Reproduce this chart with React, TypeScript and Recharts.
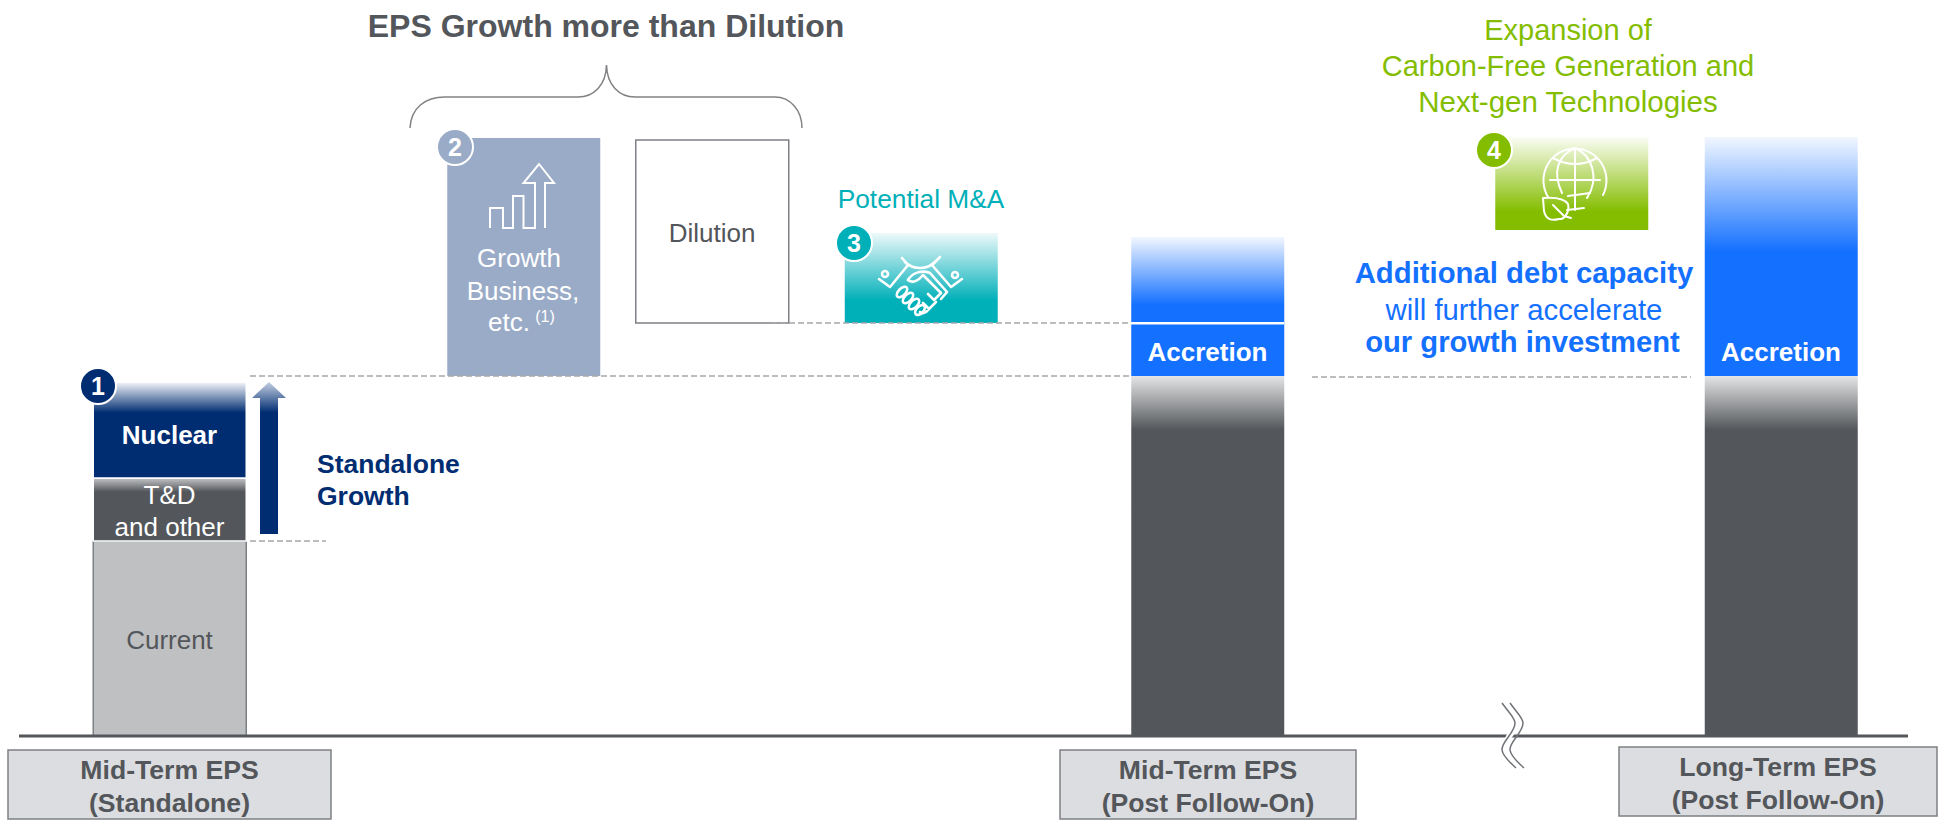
import { Bar, BarChart, ReferenceLine, XAxis, YAxis } from "recharts";

// Reference has no numeric scale: values are relative EPS heights.
const CATEGORIES = [
  "Mid-Term EPS (Standalone)",
  "Growth Business",
  "Dilution",
  "Potential M&A",
  "Mid-Term EPS (Post Follow-On)",
  "Carbon-Free Generation",
  "Long-Term EPS (Post Follow-On)",
];
const OFFSET = [0, 360, 413, 413, 0, 506, 0];
const CURRENT = [195, 0, 0, 0, 0, 0, 0];
const TD_OTHER = [63, 0, 0, 0, 0, 0, 0];
const NUCLEAR = [96, 0, 0, 0, 0, 0, 0];
const GROWTH = [0, 238, 0, 0, 0, 0, 0];
const DILUTION = [0, 0, 183, 0, 0, 0, 0];
const MNA = [0, 0, 0, 90, 0, 0, 0];
const STANDALONE = [0, 0, 0, 0, 360, 0, 360];
const ACCRETION = [0, 0, 0, 0, 52, 0, 0];
const EXPANSION = [0, 0, 0, 0, 87, 93, 0];
const LONG_ACCRETION = [0, 0, 0, 0, 0, 0, 239];

const WIDTH = 1945;
const HEIGHT = 821;
const BAR_W = 153;
const PLOT_LEFT = 19;
const PLOT_RIGHT = 1908;
const CENTERS = [169.5, 523.5, 712, 921, 1207.5, 1571.5, 1781];

const FONT = "'Liberation Sans', Arial, sans-serif";
const GREY = "#53565a";
const NAVY = "#002d72";
const STEEL = "#9aabc7";
const TEAL = "#00b0b9";
const GREEN = "#84bd00";
const BLUE = "#1470ff";

const chartData = CATEGORIES.map((name, i) => ({
  name,
  center: CENTERS[i],
  offset: OFFSET[i],
  current: CURRENT[i],
  td: TD_OTHER[i],
  nuclear: NUCLEAR[i],
  growth: GROWTH[i],
  dilution: DILUTION[i],
  mna: MNA[i],
  standalone: STANDALONE[i],
  accretion: ACCRETION[i],
  expansion: EXPANSION[i],
  longAccretion: LONG_ACCRETION[i],
}));

const AXIS_LABELS: Record<number, { lines: string[]; left: number; right: number; top: number }> = {
  169.5: { lines: ["Mid-Term EPS", "(Standalone)"], left: 8, right: 331, top: 750 },
  1207.5: { lines: ["Mid-Term EPS", "(Post Follow-On)"], left: 1060, right: 1356, top: 750 },
  1781: { lines: ["Long-Term EPS", "(Post Follow-On)"], left: 1619, right: 1937, top: 747 },
};

function AxisBox({ payload }: any) {
  const item = AXIS_LABELS[payload.value];
  if (!item) return null;
  const mid = (item.left + item.right) / 2;
  return (
    <g>
      <rect
        x={item.left}
        y={item.top}
        width={item.right - item.left}
        height={69}
        fill="#dcdde0"
        stroke="#7d8084"
        strokeWidth={1.5}
      />
      {item.lines.map((line, i) => (
        <text
          key={line}
          x={mid}
          y={item.top + 29 + i * 33}
          textAnchor="middle"
          fontFamily={FONT}
          fontSize={26.6}
          fontWeight="bold"
          fill={GREY}
        >
          {line}
        </text>
      ))}
    </g>
  );
}

function Gradient({ id, top, color, stop }: { id: string; top: string; color: string; stop: number }) {
  return (
    <linearGradient id={id} x1="0" y1="0" x2="0" y2="1">
      <stop offset="0%" stopColor={top} />
      <stop offset={`${stop}%`} stopColor={color} />
      <stop offset="100%" stopColor={color} />
    </linearGradient>
  );
}

function Badge({ x, y, n, color }: { x: number; y: number; n: string; color: string }) {
  return (
    <g>
      <circle cx={x} cy={y} r={18} fill={color} stroke="#fff" strokeWidth={2} />
      <text
        x={x}
        y={y + 9}
        textAnchor="middle"
        fontFamily={FONT}
        fontSize={25}
        fontWeight="bold"
        fill="#fff"
      >
        {n}
      </text>
    </g>
  );
}

function Label(props: any) {
  const { x, y, children, size = 26, color = GREY, bold, anchor = "middle" } = props;
  return (
    <text
      x={x}
      y={y}
      textAnchor={anchor}
      dominantBaseline="central"
      fontFamily={FONT}
      fontSize={size}
      fontWeight={bold ? "bold" : "normal"}
      fill={color}
    >
      {children}
    </text>
  );
}

// Everything that is not a data mark: text, icons, badges, the brace, the axis break
function Annotations() {
  return (
    <svg
      width={WIDTH}
      height={HEIGHT}
      style={{ position: "absolute", left: 0, top: 0, pointerEvents: "none" }}
    >
      <defs>
        <linearGradient id="arrowFill" x1="0" y1="0" x2="0" y2="1">
          <stop offset="0%" stopColor="#c5d0e2" />
          <stop offset="20%" stopColor={NAVY} />
          <stop offset="100%" stopColor={NAVY} />
        </linearGradient>
      </defs>

      {/* gap between accretion and its top block */}
      <rect x={1131} y={322} width={153} height={2.5} fill="#fff" />

      <Label x={606} y={26} size={32} bold>EPS Growth more than Dilution</Label>
      <path
        d="M410 128 C411 108 425 97 445 97 H578 C594 97 606 85 606.5 65 C607 85 619 97 635 97 H775 C790 97 802 110 802 128"
        fill="none"
        stroke="#808285"
        strokeWidth={1.5}
      />

      <Label x={169.5} y={435} bold color="#fff">Nuclear</Label>
      <Label x={169.5} y={495} color="#fff">T&amp;D</Label>
      <Label x={169.5} y={527} color="#fff">and other</Label>
      <Label x={169.5} y={640}>Current</Label>

      <polygon points="269,382 286,398 278,398 278,534 260,534 260,398 252,398" fill="url(#arrowFill)" />
      <Label x={317} y={464} size={26.5} bold color={NAVY} anchor="start">Standalone</Label>
      <Label x={317} y={496} size={26.5} bold color={NAVY} anchor="start">Growth</Label>

      <Label x={519} y={258} color="#fff">Growth</Label>
      <Label x={523} y={291} color="#fff">Business,</Label>
      <Label x={509} y={322} color="#fff">etc.</Label>
      <Label x={545} y={316} size={16} color="#fff">(1)</Label>
      <path
        d="M490 228 V208 H503 V228 H513 V196 H523.5 V228 H535 V183 H523.5 L539 164 L554 183 H545 V228"
        fill="none"
        stroke="#fff"
        strokeWidth={2}
      />

      <Label x={712} y={233}>Dilution</Label>
      <Label x={921} y={199} size={26.3} color={TEAL}>Potential M&amp;A</Label>

      {/* handshake icon */}
      <g fill="none" stroke="#fff" strokeWidth={2.6} strokeLinecap="round" strokeLinejoin="round">
        <path d="M879 279 L890 287 L908 265 L902 258" />
        <path d="M962 279 L951 287 L932 265 L940 257" />
        <path d="M905 262 C913 270 927 270 935 262" />
        <path d="M908 280 C913 272 922 270 930 273 L947 292" />
        <path d="M908 280 C913 284 919 280 923 275 L941 293" />
        <ellipse cx={902} cy={292} rx={6.5} ry={3.5} transform="rotate(-45 902 292)" />
        <ellipse cx={908} cy={298} rx={6.5} ry={3.5} transform="rotate(-45 908 298)" />
        <ellipse cx={914} cy={304} rx={6.5} ry={3.5} transform="rotate(-45 914 304)" />
        <ellipse cx={920} cy={310} rx={6} ry={3.5} transform="rotate(-45 920 310)" />
        <path d="M947 292 L941 299 M941 293 L934 300 L928 294 M936 302 L929 309 L923 303 M930 308 L926 312 C923 314 921 313 920 312" />
        <circle cx={885} cy={274} r={3} />
        <circle cx={955} cy={275} r={3} />
      </g>

      <Label x={1568} y={30} size={29} color={GREEN}>Expansion of</Label>
      <Label x={1568} y={66} size={29} color={GREEN}>Carbon-Free Generation and</Label>
      <Label x={1568} y={101} size={29.5} color={GREEN}>Next-gen Technologies</Label>

      {/* globe icon */}
      <g fill="none" stroke="#fff" strokeWidth={2} strokeLinecap="round" strokeLinejoin="round">
        <path d="M1548 197 A31.5 32 0 1 1 1603 195" />
        <path d="M1562 193 C1552 172 1558 155 1575 148 C1592 155 1600 178 1587 198" />
        <path d="M1575 148 V210 M1550 180 H1600 M1553 158 Q1575 170 1597 158 M1568 196 L1590 193 M1567 210 L1584 208" />
        <path d="M1543 198 C1555 197 1564 198 1568 204 C1570 212 1564 220 1559 219 C1552 221 1546 220 1544 211 Z" />
        <path d="M1553 205 L1564 216 L1571 218" />
      </g>

      <Label x={1524} y={272} size={29.3} bold color={BLUE}>Additional debt capacity</Label>
      <Label x={1524} y={309} size={29.3} color={BLUE}>will further accelerate</Label>
      <Label x={1522.5} y={342} size={29.2} bold color={BLUE}>our growth investment</Label>

      <Label x={1207.5} y={352} bold color="#fff">Accretion</Label>
      <Label x={1781} y={352} bold color="#fff">Accretion</Label>

      {/* axis break */}
      <polygon points="1508,732 1516,732 1510,740 1504,740" fill="#fff" />
      <g fill="none" stroke="#6f7276" strokeWidth={1.5}>
        <path d="M1502 703 C1510 714 1515 718 1515 723 C1515 733 1501 742 1502 750 C1503 757 1510 762 1516 768" />
        <path d="M1510 703 C1518 714 1523 718 1523 723 C1523 733 1509 742 1510 750 C1511 757 1518 762 1524 768" />
      </g>

      <Badge x={98} y={386} n="1" color={NAVY} />
      <Badge x={455} y={147} n="2" color={STEEL} />
      <Badge x={854} y={243} n="3" color={TEAL} />
      <Badge x={1494} y={150} n="4" color={GREEN} />
    </svg>
  );
}

export default function App() {
  return (
    <div style={{ position: "absolute", left: 0, top: 0, width: WIDTH, height: HEIGHT, background: "#fff" }}>
      <BarChart
        width={WIDTH}
        height={HEIGHT}
        data={chartData}
        barSize={BAR_W}
        margin={{ top: 0, right: WIDTH - PLOT_RIGHT, bottom: 0, left: PLOT_LEFT }}
      >
        <defs>
          <Gradient id="nuclearFill" top="#f4f6fa" color={NAVY} stop={32} />
          <Gradient id="tdFill" top="#c4c5c7" color={GREY} stop={22} />
          <Gradient id="mnaFill" top="#eef9fa" color={TEAL} stop={75} />
          <Gradient id="greenFill" top="#fbfdf5" color={GREEN} stop={80} />
          <Gradient id="midBlueFill" top="#f2f7ff" color={BLUE} stop={78} />
          <Gradient id="longBlueFill" top="#f2f7ff" color={BLUE} stop={48} />
          <Gradient id="greyFill" top="#e4e5e6" color={GREY} stop={15} />
        </defs>
        <XAxis
          dataKey="center"
          type="number"
          scale="linear"
          domain={[PLOT_LEFT, PLOT_RIGHT]}
          ticks={[169.5, 1207.5, 1781]}
          interval={0}
          tick={<AxisBox />}
          tickLine={false}
          axisLine={{ stroke: GREY, strokeWidth: 3 }}
          height={85}
        />
        <YAxis type="number" domain={[0, 736]} hide />
        <Bar dataKey="offset" stackId="eps" fill="none" isAnimationActive={false} />
        <Bar dataKey="current" stackId="eps" fill="#bfc0c2" stroke="#7d8084" strokeWidth={1.5} isAnimationActive={false} />
        <Bar dataKey="td" stackId="eps" fill="url(#tdFill)" stroke="#fff" strokeWidth={1.5} isAnimationActive={false} />
        <Bar dataKey="nuclear" stackId="eps" fill="url(#nuclearFill)" stroke="#fff" strokeWidth={1.5} isAnimationActive={false} />
        <Bar dataKey="growth" stackId="eps" fill={STEEL} isAnimationActive={false} />
        <Bar dataKey="dilution" stackId="eps" fill="#fff" stroke="#7d8084" strokeWidth={1.5} isAnimationActive={false} />
        <Bar dataKey="mna" stackId="eps" fill="url(#mnaFill)" isAnimationActive={false} />
        <Bar dataKey="standalone" stackId="eps" fill="url(#greyFill)" isAnimationActive={false} />
        <Bar dataKey="accretion" stackId="eps" fill={BLUE} isAnimationActive={false} />
        <Bar dataKey="expansion" stackId="eps" shape={(p: any) => (
          <rect
            x={p.x}
            y={p.y}
            width={p.width}
            height={p.height}
            fill={p.payload.offset ? "url(#greenFill)" : "url(#midBlueFill)"}
          />
        )} isAnimationActive={false} />
        <Bar dataKey="longAccretion" stackId="eps" fill="url(#longBlueFill)" isAnimationActive={false} />

        <ReferenceLine segment={[{ x: 250, y: 360 }, { x: 1131, y: 360 }]} stroke="#a6a8ab" strokeWidth={1.5} strokeDasharray="6 3" ifOverflow="visible" />
        <ReferenceLine segment={[{ x: 250, y: 195 }, { x: 326, y: 195 }]} stroke="#a6a8ab" strokeWidth={1.5} strokeDasharray="6 3" ifOverflow="visible" />
        <ReferenceLine segment={[{ x: 771, y: 413 }, { x: 1131, y: 413 }]} stroke="#a6a8ab" strokeWidth={1.5} strokeDasharray="6 3" ifOverflow="visible" />
        <ReferenceLine segment={[{ x: 1312, y: 359 }, { x: 1691, y: 359 }]} stroke="#a6a8ab" strokeWidth={1.5} strokeDasharray="6 3" ifOverflow="visible" />
      </BarChart>
      <Annotations />
    </div>
  );
}
